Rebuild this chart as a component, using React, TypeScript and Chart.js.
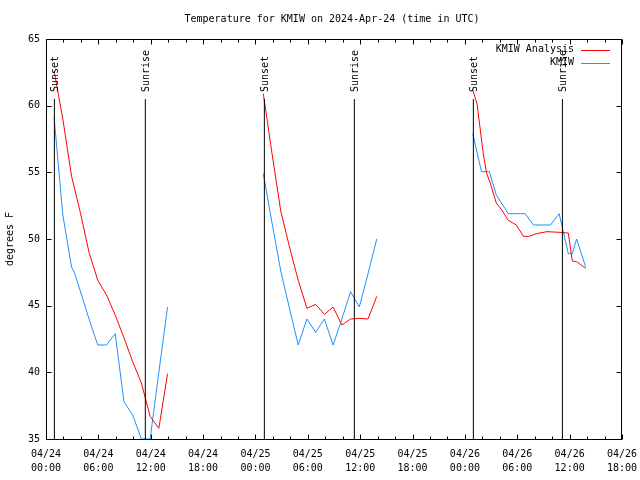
import React, { useEffect, useRef } from "react";
import { Chart, registerables } from "chart.js";

Chart.register(...registerables);

const TITLE = "Temperature for KMIW on 2024-Apr-24 (time in UTC)";
const Y_LABEL = "degrees F";
const MONTH = "04";
const START_DAY = 24;
const X_MIN = 0;
const X_MAX = 66;
const Y_MIN = 35;
const Y_MAX = 65;

const ANALYSIS_LABEL = "KMIW Analysis";
const OBS_LABEL = "KMIW";

// hours since 2024-04-24 00:00 UTC
const analysisHours1 = [0.93, 1.93, 2.93, 3.93, 4.93, 5.93, 6.93, 7.93, 8.93, 9.93, 10.93, 11.93, 12.93, 13.93];
const analysisTemps1 = [62.6, 59.0, 54.7, 52.0, 49.0, 46.9, 45.8, 44.3, 42.6, 40.8, 39.2, 36.7, 35.8, 39.9];
const analysisHours2 = [24.9, 25.9, 26.9, 27.9, 28.9, 29.9, 30.9, 31.9, 32.9, 33.9, 34.9, 35.9, 36.9, 37.9];
const analysisTemps2 = [60.9, 56.4, 52.1, 49.4, 46.9, 44.8, 45.1, 44.35, 44.9, 43.55, 44.0, 44.05, 44.0, 45.7];
const analysisHours3 = [48.9, 49.4, 50.1, 50.5, 50.9, 51.6, 52.2, 52.97, 53.9, 54.7, 55.3, 56.2, 57.4, 58.8, 59.85, 60.3, 60.8, 61.84];
const analysisTemps3 = [61.2, 60.1, 56.4, 54.9, 54.2, 52.7, 52.2, 51.4, 51.05, 50.2, 50.2, 50.4, 50.55, 50.5, 50.45, 48.35, 48.3, 47.8];

const obsHours1 = [0.93, 1.93, 2.93, 3.3, 3.93, 4.93, 5.93, 6.93, 7.93, 8.93, 9.93, 10.93, 11.93, 12.93, 13.93];
const obsTemps1 = [59.1, 51.8, 47.9, 47.4, 46.1, 44.0, 42.05, 42.05, 42.9, 37.8, 36.8, 35.0, 35.0, 40.0, 44.9];
const obsHours2 = [24.9, 25.9, 26.9, 27.9, 28.9, 29.9, 30.9, 31.9, 32.9, 33.9, 34.9, 35.9, 36.9, 37.9];
const obsTemps2 = [54.9, 51.2, 47.6, 44.8, 42.05, 44.0, 43.0, 44.0, 42.05, 44.0, 46.05, 44.9, 47.4, 50.0];
const obsHours3 = [48.9, 49.9, 50.8, 51.6, 52.97, 54.9, 55.85, 57.8, 58.8, 59.85, 60.3, 60.8, 61.84];
const obsTemps3 = [57.9, 55.05, 55.05, 53.3, 51.9, 51.9, 51.05, 51.05, 51.9, 48.9, 48.9, 50.0, 47.9];

const sunHours = [0.96, 11.38, 25.02, 35.33, 48.97, 59.17];
const sunLabels = ["Sunset", "Sunrise", "Sunset", "Sunrise", "Sunset", "Sunrise"];
const SUN_LINE_TOP = 60.5;

const FONT = '"DejaVu Sans Mono", "Liberation Mono", monospace';
const RED = "#ff0000";
const BLUE = "#1e90ff";

function joinSegments(segs: [number[], number[]][]) {
  const out: { x: number; y: number | null }[] = [];
  segs.forEach(([hs, ts], i) => {
    if (i > 0) out.push({ x: (hs[0] + out[out.length - 1].x) / 2, y: null });
    hs.forEach((h, j) => out.push({ x: h, y: ts[j] }));
  });
  return out;
}

const decorPlugin = {
  id: "gnuplotDecor",
  beforeDatasetsDraw(chart: any) {
    const { ctx, chartArea, scales } = chart;
    const { left, right, top, bottom } = chartArea;
    const L = Math.round(left) + 0.5;
    const R = Math.round(right) - 0.5;
    const T = Math.round(top) + 0.5;
    const B = Math.round(bottom) + 0.5;
    ctx.save();
    ctx.strokeStyle = "#000";
    ctx.lineWidth = 1;
    ctx.beginPath();
    for (let h = X_MIN; h <= X_MAX; h += 2) {
      const len = h % 6 === 0 ? 5 : 3;
      const px = Math.round(scales.x.getPixelForValue(h)) + 0.5;
      ctx.moveTo(px, B);
      ctx.lineTo(px, B - len);
      ctx.moveTo(px, T);
      ctx.lineTo(px, T + len);
    }
    for (let v = Y_MIN; v <= Y_MAX; v += 5) {
      const py = Math.round(scales.y.getPixelForValue(v)) + 0.5;
      ctx.moveTo(L, py);
      ctx.lineTo(L + 5, py);
      ctx.moveTo(R, py);
      ctx.lineTo(R - 5, py);
    }
    ctx.stroke();
    ctx.strokeRect(L, T, R - L, B - T);
    ctx.restore();
  },
  afterDatasetsDraw(chart: any) {
    const { ctx, scales } = chart;
    ctx.save();
    ctx.fillStyle = "#000";
    ctx.font = `10px ${FONT}`;
    // sun labels
    sunHours.forEach((h, i) => {
      const px = Math.round(scales.x.getPixelForValue(h)) + 1.5;
      const py = scales.y.getPixelForValue(SUN_LINE_TOP) - 7;
      ctx.save();
      ctx.translate(px, py);
      ctx.rotate(-Math.PI / 2);
      ctx.textAlign = "left";
      ctx.textBaseline = "middle";
      ctx.fillText(sunLabels[i], 0, 0);
      ctx.restore();
    });
    // legend
    const items = chart.data.datasets.filter((d: any) => d.isSeries);
    items.forEach((d: any, i: number) => {
      const y = 49.5 + i * 13;
      ctx.textAlign = "right";
      ctx.textBaseline = "middle";
      ctx.fillStyle = "#000";
      ctx.fillText(d.label, 574, y);
      ctx.strokeStyle = d.borderColor;
      ctx.lineWidth = 1;
      ctx.beginPath();
      ctx.moveTo(581, Math.round(y) + 0.5);
      ctx.lineTo(610, Math.round(y) + 0.5);
      ctx.stroke();
    });
    // title
    ctx.fillStyle = "#000";
    ctx.textAlign = "center";
    ctx.textBaseline = "middle";
    ctx.fillText(TITLE, 332, 19.5);
    // y label
    ctx.save();
    ctx.translate(10, 239);
    ctx.rotate(-Math.PI / 2);
    ctx.textAlign = "center";
    ctx.textBaseline = "middle";
    ctx.fillText(Y_LABEL, 0, 0);
    ctx.restore();
    ctx.restore();
  },
};

export default function App() {
  const ref = useRef<HTMLCanvasElement | null>(null);
  useEffect(() => {
    if (!ref.current) return;
    const sunDatasets = sunHours.map((h, i) => ({
      label: sunLabels[i],
      data: [
        { x: h, y: Y_MIN },
        { x: h, y: SUN_LINE_TOP },
      ],
      borderColor: "#000",
      borderWidth: 1,
      pointRadius: 0,
      tension: 0,
      isSeries: false,
    }));
    const chart = new Chart(ref.current, {
      type: "line",
      data: {
        datasets: [
          ...sunDatasets,
          {
            label: ANALYSIS_LABEL,
            data: joinSegments([
              [analysisHours1, analysisTemps1],
              [analysisHours2, analysisTemps2],
              [analysisHours3, analysisTemps3],
            ]),
            borderColor: RED,
            borderWidth: 1,
            pointRadius: 0,
            tension: 0,
            spanGaps: false,
            isSeries: true,
          },
          {
            label: OBS_LABEL,
            data: joinSegments([
              [obsHours1, obsTemps1],
              [obsHours2, obsTemps2],
              [obsHours3, obsTemps3],
            ]),
            borderColor: BLUE,
            borderWidth: 1,
            pointRadius: 0,
            tension: 0,
            spanGaps: false,
            isSeries: true,
          },
        ] as any,
      },
      options: {
        animation: false,
        responsive: false,
        devicePixelRatio: 1,
        layout: { padding: { top: 39, right: 18, left: 0, bottom: 0 } },
        plugins: {
          legend: { display: false },
          tooltip: { enabled: false },
          title: { display: false },
        },
        events: [],
        scales: {
          x: {
            type: "linear",
            min: X_MIN,
            max: X_MAX,
            grid: { display: false, drawTicks: false, tickLength: 0 },
            border: { display: false },
            afterFit: (s: any) => {
              s.height = 41;
              s.paddingLeft = 0;
              s.paddingRight = 0;
            },
            ticks: {
              stepSize: 6,
              autoSkip: false,
              maxRotation: 0,
              minRotation: 0,
              padding: 8,
              color: "#000",
              font: { family: FONT, size: 10, lineHeight: 1.4 },
              callback: (value: any) => {
                const h = Number(value);
                const d = START_DAY + Math.floor(h / 24);
                const hh = h % 24;
                return [`${MONTH}/${d}`, `${String(hh).padStart(2, "0")}:00`];
              },
            },
          },
          y: {
            type: "linear",
            min: Y_MIN,
            max: Y_MAX,
            grid: { display: false, drawTicks: false, tickLength: 0 },
            border: { display: false },
            afterFit: (s: any) => {
              s.width = 46;
              s.paddingTop = 0;
              s.paddingBottom = 0;
            },
            ticks: {
              stepSize: 5,
              padding: 6,
              color: "#000",
              font: { family: FONT, size: 10 },
            },
          },
        },
      },
      plugins: [decorPlugin],
    });
    return () => chart.destroy();
  }, []);
  return (
    <div style={{ position: "fixed", left: 0, top: 0, width: 640, height: 480, background: "#fff" }}>
      <canvas ref={ref} width={640} height={480} style={{ display: "block" }} />
    </div>
  );
}
